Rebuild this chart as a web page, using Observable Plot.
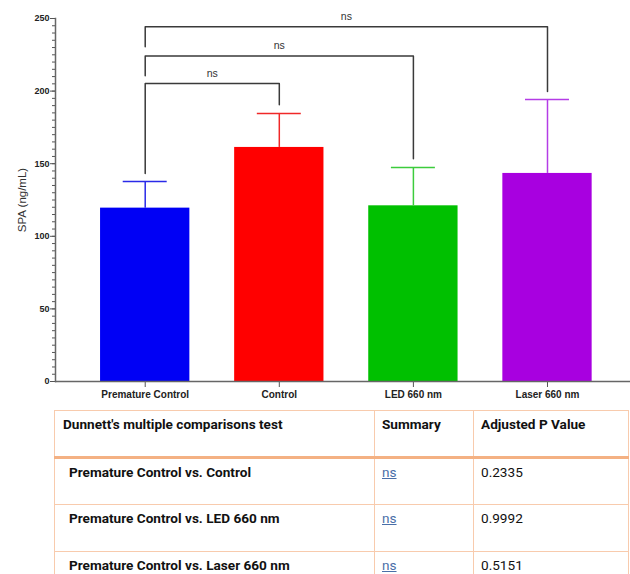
<!DOCTYPE html>
<html>
<head>
<meta charset="utf-8">
<script src="https://cdn.jsdelivr.net/npm/d3@7"></script>
<script src="https://cdn.jsdelivr.net/npm/@observablehq/plot@0.6"></script>
<style>
  html, body { margin: 0; padding: 0; background: #fff; width: 630px; height: 574px; overflow: hidden; }
  #chart { position: absolute; left: 0; top: 0; }
  #tbl { position: absolute; left: 54px; top: 410px; border-collapse: collapse; font-family: Roboto, "Liberation Sans", sans-serif; font-size: 13.6px; color: #111; table-layout: fixed; }
  #tbl td { border: 1px solid #f8cbad; height: 42px; box-sizing: border-box; vertical-align: top; padding: 4px 7px 0 7px; line-height: 18px; overflow: hidden; white-space: nowrap; }
  #tbl tr { height: 47px; }
  #tbl tr.head td { border-bottom: 3px solid #f4b183; font-weight: 700; }
  #tbl td.lab { font-weight: 700; padding-left: 14px; }
  #tbl tr.head td.lab { padding-left: 8px; }
  #tbl td.ns a { color: #4a6fa8; text-decoration: underline; }
</style>
</head>
<body>
<div id="chart"></div>
<table id="tbl"></table>
<script>
// ---- data ----
const groups = ["Premature Control", "Control", "LED 660 nm", "Laser 660 nm"];
const means  = [119.4, 161.2, 121.0, 143.3];
const uppers = [137.7, 184.6, 147.4, 194.2];
const barColors = ["#0000f5", "#ff0000", "#00c000", "#a800e0"];
const errColors = ["#2a2ae8", "#f02828", "#3ccc3c", "#b43ce6"];

const yTicks = [0, 50, 100, 150, 200, 250];

// significance brackets: Premature Control vs each group
const bracketTo     = [1, 2, 3];
const bracketTop    = [205.2, 224.1, 244.3];
const bracketLeftB  = [143.3, 210.5, 230.5];
const bracketRightB = [190.6, 153.4, 199.7];
const bracketLabel  = ["ns", "ns", "ns"];

// table
const tableHeader = ["Dunnett's multiple comparisons test", "Summary", "Adjusted P Value"];
const comparisons = ["Premature Control vs. Control", "Premature Control vs. LED 660 nm", "Premature Control vs. Laser 660 nm"];
const summaries   = ["ns", "ns", "ns"];
const pValues     = ["0.2335", "0.9992", "0.5151"];

// ---- build ----
const bars = groups.map((g, i) => ({i, g, mean: means[i], upper: uppers[i], fill: barColors[i], err: errColors[i]}));
const half = 0.333, capHalf = 0.164;

const bracketPts = [];
bracketTo.forEach((to, k) => {
  bracketPts.push({k, x: 0, y: bracketLeftB[k]});
  bracketPts.push({k, x: 0, y: bracketTop[k]});
  bracketPts.push({k, x: to, y: bracketTop[k]});
  bracketPts.push({k, x: to, y: bracketRightB[k]});
});
const bracketLabels = bracketTo.map((to, k) => ({x: to / 2, y: bracketTop[k], t: bracketLabel[k]}));

const plot = Plot.plot({
  width: 630,
  height: 405,
  marginLeft: 55,
  marginRight: 0,
  marginTop: 18,
  marginBottom: 24,
  style: {fontFamily: "'Liberation Sans', Arial, sans-serif", color: "#222", background: "#fff"},
  x: {type: "linear", domain: [-0.669, 3.619]},
  y: {domain: [0, 250]},
  marks: [
    Plot.rectY(bars, {x1: d => d.i - half, x2: d => d.i + half, y1: 0, y2: "mean", fill: "fill"}),
    Plot.ruleX(bars, {x: "i", y1: "mean", y2: "upper", stroke: "err", strokeWidth: 1.5}),
    Plot.ruleY(bars, {y: "upper", x1: d => d.i - capHalf, x2: d => d.i + capHalf, stroke: "err", strokeWidth: 1.5}),
    Plot.line(bracketPts, {x: "x", y: "y", z: "k", stroke: "#3a3a3a", strokeWidth: 1.5, curve: "linear"}),
    Plot.text(bracketLabels, {x: "x", y: "y", text: "t", dy: -10, fontSize: 10.5, fill: "#333"}),
    Plot.axisY({ticks: d3.range(0, 251, 5), tickSize: 3, text: null, stroke: "#555"}),
    Plot.axisY({ticks: yTicks, tickSize: 5, tickPadding: 1, fontSize: 9, fontWeight: "bold", stroke: "#555", fill: "#222",
      label: "SPA (ng/mL)", labelAnchor: "center", labelArrow: "none", labelOffset: 38}),
    Plot.axisX({ticks: [0, 1, 2, 3], tickFormat: i => groups[i], tickSize: 6, tickPadding: 3, fontSize: 10, fontWeight: "bold", stroke: "#555", fill: "#222", label: null}),
    Plot.ruleY([0], {stroke: "#666", strokeWidth: 1.5}),
    Plot.frame({anchor: "left", stroke: "#666", strokeWidth: 1.5})
  ]
});
document.getElementById("chart").appendChild(plot);

// style y label
plot.querySelectorAll("[aria-label='y-axis label'] text").forEach(t => {
  t.setAttribute("font-weight", "normal");
  t.setAttribute("font-size", "11.5");
  t.setAttribute("fill", "#333");
});

// table
const tbl = document.getElementById("tbl");
const widths = [320, 99, 155];
const hr = document.createElement("tr"); hr.className = "head";
tableHeader.forEach((h, j) => {
  const td = document.createElement("td");
  td.textContent = h; td.style.width = widths[j] + "px";
  if (j === 0) td.className = "lab";
  hr.appendChild(td);
});
tbl.appendChild(hr);
comparisons.forEach((c, r) => {
  const tr = document.createElement("tr");
  const a = document.createElement("td"); a.className = "lab"; a.textContent = c;
  const b = document.createElement("td"); b.className = "ns";
  const link = document.createElement("a"); link.textContent = summaries[r]; b.appendChild(link);
  const v = document.createElement("td"); v.textContent = pValues[r];
  tr.appendChild(a); tr.appendChild(b); tr.appendChild(v);
  tbl.appendChild(tr);
});
</script>
</body>
</html>
